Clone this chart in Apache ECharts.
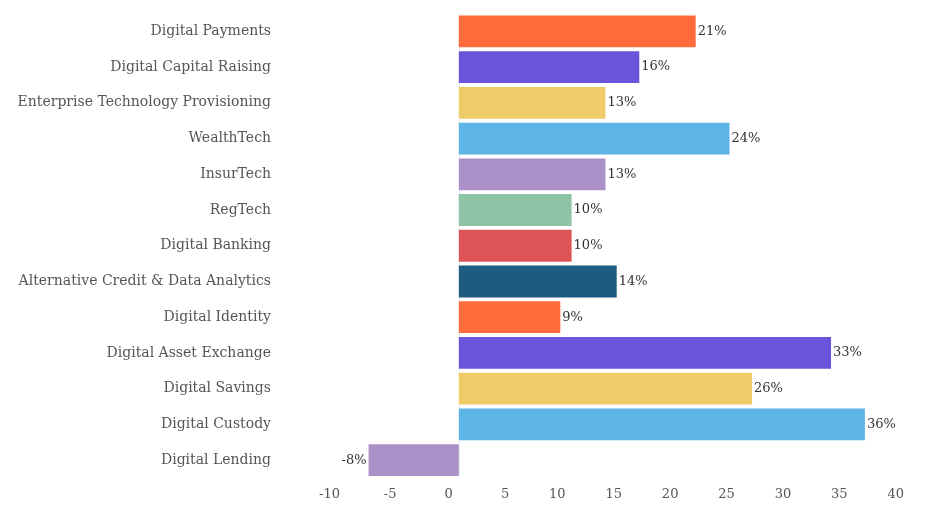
<!DOCTYPE html>
<html>
<head>
<meta charset="utf-8">
<script src="https://cdn.jsdelivr.net/npm/echarts@6/dist/echarts.min.js"></script>
<style>html,body{margin:0;padding:0;background:#fff;}#chart{width:942px;height:513px;}</style>
</head>
<body>
<div id="chart"></div>
<script>
const categories = ["Digital Payments","Digital Capital Raising","Enterprise Technology Provisioning","WealthTech","InsurTech","RegTech","Digital Banking","Alternative Credit & Data Analytics","Digital Identity","Digital Asset Exchange","Digital Savings","Digital Custody","Digital Lending"];
const values = [21,16,13,24,13,10,10,14,9,33,26,36,-8];
const palette = ["#ff6b3b","#6b53dc","#efcb6a","#5db5e5","#ab90c8","#8fc3a6","#dd5457","#1d5c80"];
const axisMin = -10, axisMax = 40, axisStep = 5;

const font = "'DejaVu Serif', 'Liberation Serif', serif";
const chart = echarts.init(document.getElementById('chart'), null, {renderer: 'canvas'});
chart.setOption({
  animation: false,
  grid: {left: 346, right: 32, top: 13.5, bottom: 35, containLabel: false, outerBoundsMode: 'none'},
  xAxis: {
    type: 'value', min: axisMin, max: axisMax, interval: axisStep,
    axisLine: {show: false}, axisTick: {show: false}, splitLine: {show: false},
    axisLabel: {color: '#555', fontFamily: font, fontSize: 13, align: 'right', padding: [0, 6, 0, 0], margin: 10}
  },
  yAxis: {
    type: 'category', data: categories, inverse: true,
    axisLine: {show: true, lineStyle: {color: '#e8edf3', width: 1}},
    axisTick: {show: false},
    axisLabel: {color: '#555', fontFamily: font, fontSize: 14, margin: 75, padding: [3, 0, 0, 0]}
  },
  series: [{
    type: 'bar',
    barCategoryGap: '11%',
    data: values.map((v, i) => ({
      value: v,
      itemStyle: {color: palette[i % palette.length]},
      label: {position: v < 0 ? 'left' : 'right'}
    })),
    label: {show: true, color: '#333', fontFamily: font, fontSize: 13, distance: 2, formatter: p => p.value + '%'}
  }]
});
</script>
</body>
</html>
